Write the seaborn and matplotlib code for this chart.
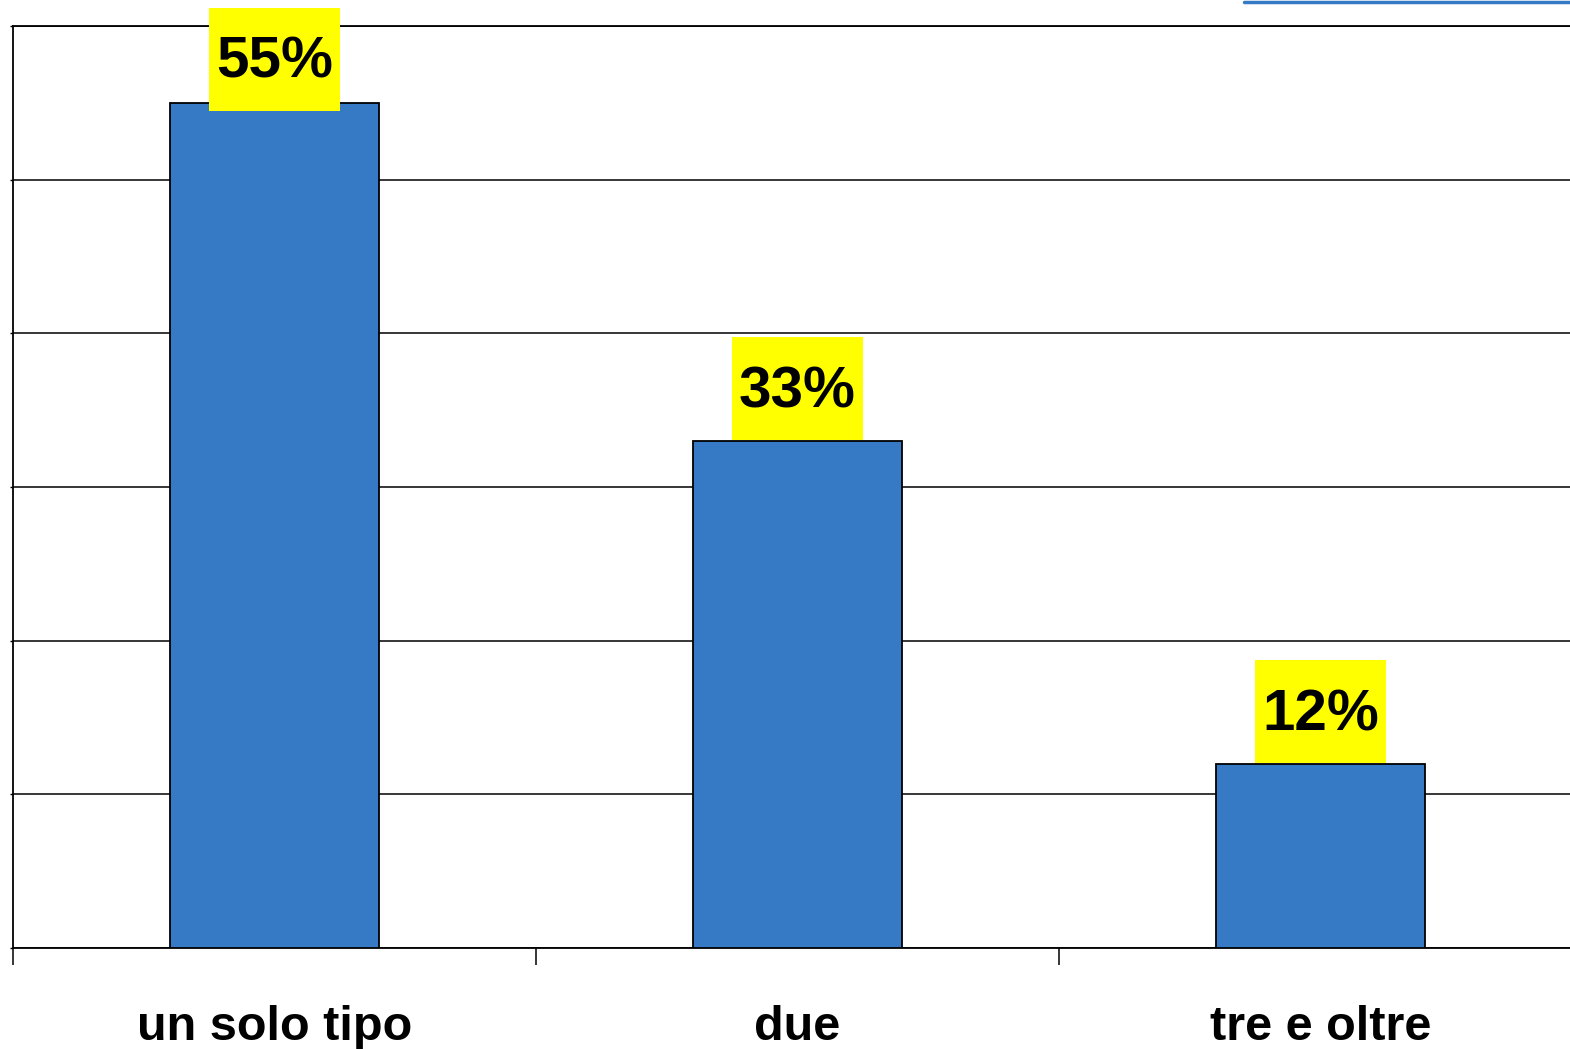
import matplotlib
matplotlib.use("Agg")
import matplotlib.pyplot as plt
import seaborn as sns
import pandas as pd
from matplotlib.lines import Line2D

categories = ["un solo tipo", "due", "tre e oltre"]
values = [55, 33, 12]
labels = ["55%", "33%", "12%"]

sns.set_theme(style="white")
plt.rcParams["font.family"] = ["Liberation Sans", "DejaVu Sans"]

W, H = 1570, 1049
fig = plt.figure(figsize=(W / 100, H / 100), dpi=100)
ax = fig.add_axes([13 / W, 101 / H, (1582 - 13) / W, 922 / H])

df = pd.DataFrame({"cat": categories, "val": values})
bar_color = "#3679c5"
sns.barplot(data=df, x="cat", y="val", color=bar_color, saturation=1,
            width=0.4, edgecolor="black", linewidth=1.3, ax=ax, zorder=3)

# yellow label boxes (kept inside the top of the figure)
box_h = 6.7
box_top_limit = 61.2
bottoms = [min(v + 0.05, box_top_limit - box_h) for v in values]
ax.bar(range(len(values)), [box_h] * len(values), bottom=bottoms,
       width=0.249, color="#ffff00", edgecolor="none", zorder=4, clip_on=False)
for i, (b, lab) in enumerate(zip(bottoms, labels)):
    ax.text(i, b + box_h / 2 - 1.23, lab, ha="center", va="baseline",
            fontsize=42, fontweight="bold", color="black", zorder=5, clip_on=False)

ax.set_xlim(-0.5, 2.5)
ax.set_ylim(0, 60)
ax.set_yticks(range(0, 61, 10))
ax.set_yticklabels([])
ax.tick_params(axis="y", length=2, width=1, color="black", left=True)
ax.yaxis.grid(True, color="black", linewidth=1.1)
ax.set_axisbelow(True)

ax.set_xticks(range(len(categories)))
ax.set_xticklabels(categories, fontsize=35, fontweight="bold", color="black")
ax.tick_params(axis="x", which="major", length=0, pad=41)
ax.set_xticks([-0.5, 0.5, 1.5, 2.5], minor=True)
ax.tick_params(axis="x", which="minor", length=12, width=1.1, color="black", bottom=True)

ax.set_xlabel("")
ax.set_ylabel("")
for s in ["left", "bottom", "top"]:
    ax.spines[s].set_visible(True)
    ax.spines[s].set_color("black")
    ax.spines[s].set_linewidth(1.3)
ax.spines["right"].set_visible(False)

# decorative blue strip at top right
fig.add_artist(Line2D([1244 / W, 1.0], [1 - 1.5 / H, 1 - 1.5 / H], color=bar_color,
                      linewidth=2.5, transform=fig.transFigure))

fig.savefig("out.png", dpi=100)
